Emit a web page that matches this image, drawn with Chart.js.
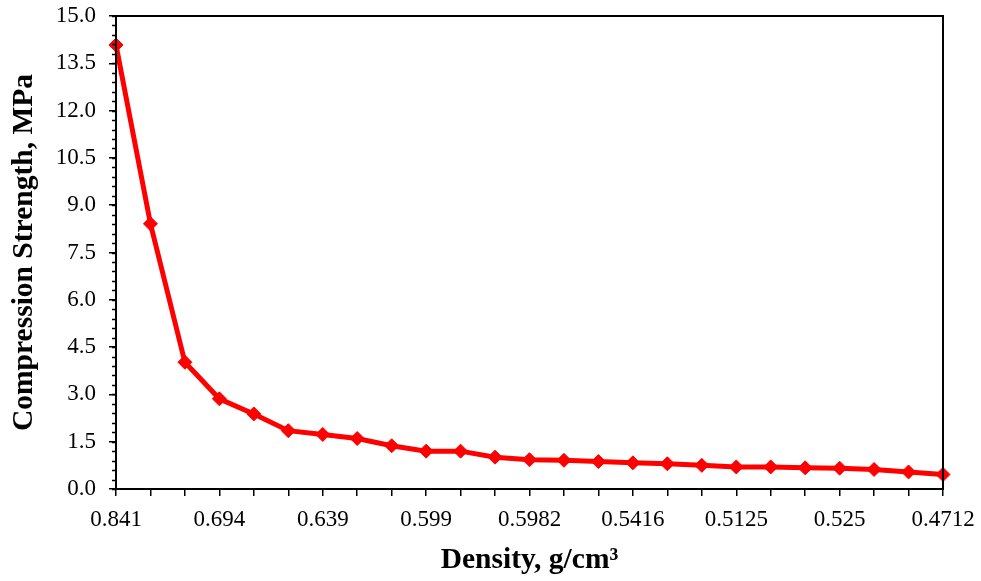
<!DOCTYPE html>
<html>
<head>
<meta charset="utf-8">
<script src="https://cdn.jsdelivr.net/npm/chart.js@4"></script>
<style>
  html, body { margin: 0; padding: 0; background: #fff; }
  canvas { display: block; }
</style>
</head>
<body>
<canvas id="chart" width="981" height="581"></canvas>
<script>
// density categories (only every third one is labelled on the axis)
const categories = [
    "0.841", "", "", "0.694", "", "", "0.639", "", "", "0.599", "", "",
    "0.5982", "", "", "0.5416", "", "", "0.5125", "", "", "0.525", "", "", "0.4712"
];

// compression strength, MPa
const strength = [
    14.08, 8.41, 4.02, 2.86, 2.38, 1.85, 1.73, 1.60, 1.37, 1.20, 1.20, 1.01,
    0.93, 0.91, 0.87, 0.83, 0.80, 0.75, 0.70, 0.70, 0.67, 0.66, 0.62, 0.54, 0.46
];

const yMin = 0, yMax = 15, yMajor = 1.5, yMinor = 0.3;

const tickFont = { family: "'Liberation Serif', 'Times New Roman', serif", size: 23 };
const titleFont = { family: "'Liberation Serif', 'Times New Roman', serif", size: 29.5, weight: "bold" };

/* frame + minor ticks on the y axis */
const framePlugin = {
    id: "frame",
    afterDraw(chart) {
        const { ctx, chartArea: a } = chart;
        const y = chart.scales.y;
        ctx.save();
        ctx.strokeStyle = "#000";
        ctx.lineWidth = 2;
        ctx.strokeRect(a.left, a.top, a.right - a.left, a.bottom - a.top);
        ctx.lineWidth = 1.5;
        ctx.beginPath();
        for (let v = yMin; v <= yMax + 1e-9; v += yMinor) {
            const py = Math.round(y.getPixelForValue(v)) + 0.5;
            ctx.moveTo(a.left - 4, py);
            ctx.lineTo(a.left, py);
        }
        ctx.stroke();
        ctx.restore();
    }
};

new Chart(document.getElementById("chart"), {
    type: "line",
    data: {
        labels: categories,
        datasets: [{
            data: strength,
            borderColor: "#ff0000",
            backgroundColor: "#ff0000",
            borderWidth: 5,
            pointStyle: "rectRot",
            pointRadius: 7,
            pointBorderWidth: 1,
            tension: 0,
            clip: false
        }]
    },
    options: {
        responsive: false,
        animation: false,
        layout: { padding: { top: 16, right: 38, bottom: 0, left: 0 } },
        plugins: {
            legend: { display: false },
            tooltip: { enabled: false }
        },
        scales: {
            x: {
                type: "category",
                offset: false,
                afterFit: s => {
                    s.height = 92;
                    s.paddingLeft = 0;
                    s.paddingRight = 0;
                },
                border: { display: true, color: "#000", width: 2 },
                grid: { drawOnChartArea: false, drawTicks: true, tickLength: 7, color: "#000", lineWidth: 1.5 },
                ticks: { autoSkip: false, maxRotation: 0, color: "#000", font: tickFont, padding: 10 },
                title: { display: true, text: "Density, g/cm³", color: "#000", font: titleFont, padding: { top: 0, bottom: 3 } }
            },
            y: {
                min: yMin,
                max: yMax,
                afterFit: s => {
                    s.width = 116;
                    s.paddingTop = 0;
                    s.paddingBottom = 0;
                },
                border: { display: true, color: "#000", width: 2 },
                grid: { drawOnChartArea: false, drawTicks: true, tickLength: 7, color: "#000", lineWidth: 1.5 },
                ticks: {
                    stepSize: yMajor,
                    autoSkip: false,
                    color: "#000",
                    font: tickFont,
                    padding: 13,
                    callback: v => v.toFixed(1)
                },
                title: { display: true, text: "Compression Strength, MPa", color: "#000", font: titleFont, padding: { top: 7, bottom: 0 } }
            }
        }
    },
    plugins: [framePlugin]
});
</script>
</body>
</html>
